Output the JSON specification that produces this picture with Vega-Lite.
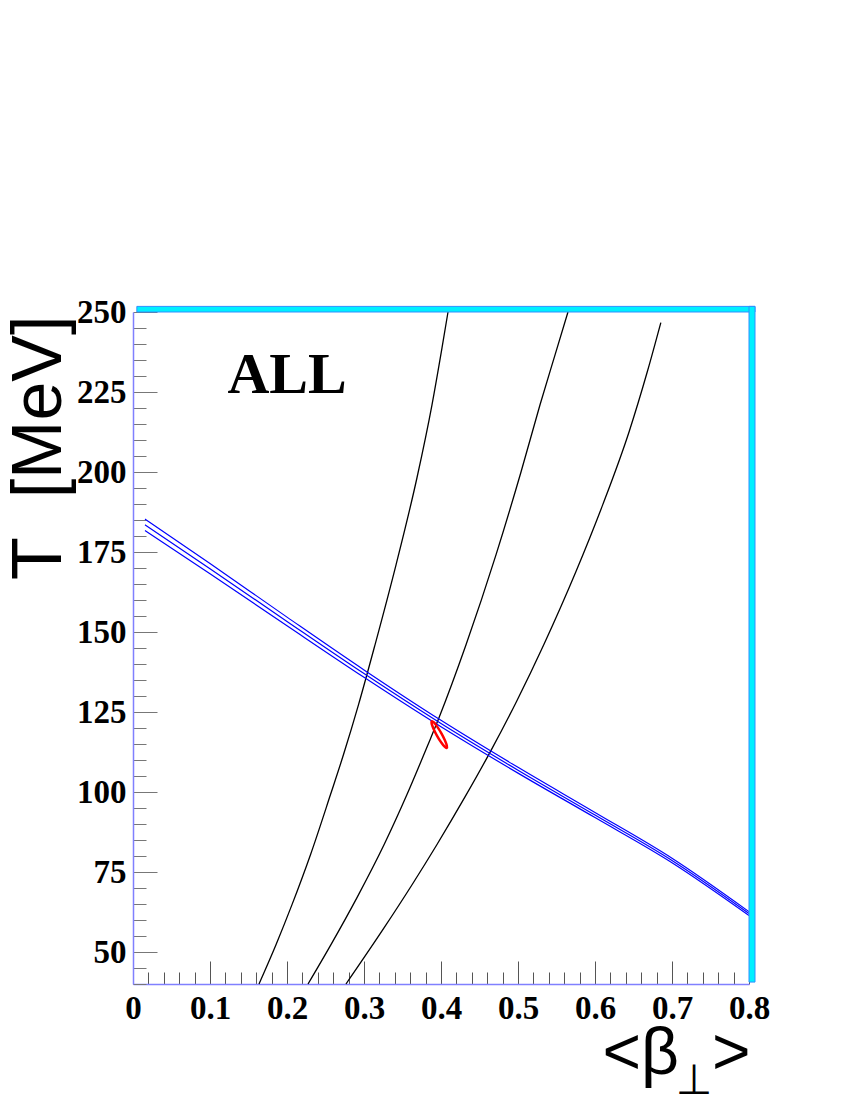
{
  "$schema": "https://vega.github.io/schema/vega-lite/v6.json",
  "width": 616,
  "height": 672,
  "autosize": {"type": "none"},
  "padding": {"left": 133, "top": 312, "right": 45, "bottom": 116},
  "background": "white",
  "config": {"view": {"stroke": null}},
  "datasets": {
    "curves": [
      {"curve": "c1", "x": 0.1636, "T": 40}, {"curve": "c1", "x": 0.1857, "T": 52.3}, {"curve": "c1", "x": 0.2065, "T": 64.8},
      {"curve": "c1", "x": 0.2305, "T": 80.4}, {"curve": "c1", "x": 0.2565, "T": 99.2}, {"curve": "c1", "x": 0.2734, "T": 111.7},
      {"curve": "c1", "x": 0.2929, "T": 127.3}, {"curve": "c1", "x": 0.3143, "T": 146.0}, {"curve": "c1", "x": 0.3416, "T": 171.0},
      {"curve": "c1", "x": 0.3688, "T": 198.2}, {"curve": "c1", "x": 0.3883, "T": 221.0}, {"curve": "c1", "x": 0.4013, "T": 238.8},
      {"curve": "c1", "x": 0.4091, "T": 250},
      {"curve": "c2", "x": 0.2273, "T": 40}, {"curve": "c2", "x": 0.2571, "T": 52.3}, {"curve": "c2", "x": 0.2909, "T": 67.0},
      {"curve": "c2", "x": 0.3260, "T": 83.5}, {"curve": "c2", "x": 0.3558, "T": 99.2}, {"curve": "c2", "x": 0.3831, "T": 114.8},
      {"curve": "c2", "x": 0.3974, "T": 123.2}, {"curve": "c2", "x": 0.4325, "T": 146.0}, {"curve": "c2", "x": 0.4714, "T": 174.1},
      {"curve": "c2", "x": 0.5039, "T": 200.0}, {"curve": "c2", "x": 0.5286, "T": 221.0}, {"curve": "c2", "x": 0.5481, "T": 236.6},
      {"curve": "c2", "x": 0.5649, "T": 250},
      {"curve": "c3", "x": 0.2766, "T": 40}, {"curve": "c3", "x": 0.3262, "T": 57.6}, {"curve": "c3", "x": 0.3626, "T": 71.1},
      {"curve": "c3", "x": 0.3948, "T": 83.6}, {"curve": "c3", "x": 0.4308, "T": 98.3}, {"curve": "c3", "x": 0.4643, "T": 112.7},
      {"curve": "c3", "x": 0.4981, "T": 128.3}, {"curve": "c3", "x": 0.5336, "T": 146.1}, {"curve": "c3", "x": 0.5753, "T": 168.9},
      {"curve": "c3", "x": 0.6101, "T": 189.8}, {"curve": "c3", "x": 0.6443, "T": 212.6}, {"curve": "c3", "x": 0.6680, "T": 231.4},
      {"curve": "c3", "x": 0.6855, "T": 246.7}
    ],
    "blue": [
      {"line": "u", "x": 0.0156, "T": 185.3}, {"line": "u", "x": 0.1, "T": 171.4}, {"line": "u", "x": 0.2, "T": 154.65},
      {"line": "u", "x": 0.3, "T": 138.15}, {"line": "u", "x": 0.4, "T": 122.4}, {"line": "u", "x": 0.5, "T": 107.7},
      {"line": "u", "x": 0.6, "T": 93.6}, {"line": "u", "x": 0.7, "T": 79.3}, {"line": "u", "x": 0.8, "T": 62.6},
      {"line": "m", "x": 0.0156, "T": 183.5}, {"line": "m", "x": 0.1, "T": 169.8}, {"line": "m", "x": 0.2, "T": 153.3},
      {"line": "m", "x": 0.3, "T": 137.0}, {"line": "m", "x": 0.4, "T": 121.4}, {"line": "m", "x": 0.5, "T": 106.8},
      {"line": "m", "x": 0.6, "T": 92.8}, {"line": "m", "x": 0.7, "T": 78.6}, {"line": "m", "x": 0.8, "T": 62.0},
      {"line": "l", "x": 0.0156, "T": 181.7}, {"line": "l", "x": 0.1, "T": 168.2}, {"line": "l", "x": 0.2, "T": 151.95},
      {"line": "l", "x": 0.3, "T": 135.85}, {"line": "l", "x": 0.4, "T": 120.4}, {"line": "l", "x": 0.5, "T": 105.9},
      {"line": "l", "x": 0.6, "T": 92.0}, {"line": "l", "x": 0.7, "T": 77.9}, {"line": "l", "x": 0.8, "T": 61.4}
    ],
    "ellipse": [
      {"i": 0, "x": 0.40744, "T": 113.79}, {"i": 1, "x": 0.40755, "T": 114.54}, {"i": 2, "x": 0.40502, "T": 116.20},
      {"i": 3, "x": 0.40053, "T": 118.33}, {"i": 4, "x": 0.39528, "T": 120.36}, {"i": 5, "x": 0.39068, "T": 121.74},
      {"i": 6, "x": 0.38796, "T": 122.11}, {"i": 7, "x": 0.38785, "T": 121.36}, {"i": 8, "x": 0.39038, "T": 119.70},
      {"i": 9, "x": 0.39487, "T": 117.57}, {"i": 10, "x": 0.40012, "T": 115.54}, {"i": 11, "x": 0.40472, "T": 114.16}
    ],
    "label": [{"x": 0.2, "T": 224.8, "text": "ALL"}],
    "sub": [{"x": 0.7286, "T": 5.6, "text": "⊥"}],
    "frame": [
      {"part": "top", "x1": 0.005, "x2": 0.8078, "t1": 250, "t2": 251.75},
      {"part": "right", "x1": 0.8, "x2": 0.8078, "t1": 40.6, "t2": 251.75}
    ]
  },
  "layer": [
    {
      "data": {"name": "curves"},
      "mark": {"type": "line", "color": "black", "strokeWidth": 1.3, "interpolate": "monotone"},
      "encoding": {
        "x": {"field": "x", "type": "quantitative", "scale": {"domain": [0, 0.8], "nice": false, "zero": false},
          "axis": {"orient": "bottom", "values": [0.02,0.04,0.06,0.08,0.12,0.14,0.16,0.18,0.22,0.24,0.26,0.28,0.32,0.34,0.36,0.38,0.42,0.44,0.46,0.48,0.52,0.54,0.56,0.58,0.62,0.64,0.66,0.68,0.72,0.74,0.76,0.78],
            "tickSize": -12, "tickColor": "#555555", "tickWidth": 1, "labels": false, "domain": false, "title": null, "grid": false}},
        "y": {"field": "T", "type": "quantitative", "scale": {"domain": [40, 250], "nice": false, "zero": false},
          "axis": {"orient": "left", "values": [40,45,55,60,65,70,80,85,90,95,105,110,115,120,130,135,140,145,155,160,165,170,180,185,190,195,205,210,215,220,230,235,240,245],
            "tickSize": -13, "tickColor": "#777777", "tickWidth": 1, "labels": false, "domain": false, "title": null, "grid": false}},
        "detail": {"field": "curve"}
      }
    },
    {
      "data": {"name": "blue"},
      "mark": {"type": "line", "color": "#0000ff", "strokeWidth": 1.2, "interpolate": "monotone"},
      "encoding": {
        "x": {"field": "x", "type": "quantitative", "scale": {"domain": [0, 0.8], "nice": false, "zero": false},
          "axis": {"orient": "bottom", "values": [0,0.1,0.2,0.3,0.4,0.5,0.6,0.7,0.8], "format": ".1~f",
            "tickSize": -23, "tickColor": "#555555", "tickWidth": 1, "domainColor": "#8080ff", "domainWidth": 1.5,
            "labelFont": "Liberation Serif", "labelFontWeight": "bold", "labelFontSize": 33, "labelColor": "black",
            "labelPadding": 31, "labelFlush": false, "labelOverlap": false, "grid": false,
            "title": "<β\u2002>", "titleFont": "Liberation Sans", "titleFontSize": 66, "titleFontWeight": "normal", "titleColor": "black",
            "titleAlign": "right", "titleBaseline": "alphabetic", "titleX": 617, "titleY": 89}},
        "y": {"field": "T", "type": "quantitative", "scale": {"domain": [40, 250], "nice": false, "zero": false},
          "axis": {"orient": "left", "values": [50,75,100,125,150,175,200,225,250],
            "tickSize": -24, "tickColor": "#777777", "tickWidth": 1, "domainColor": "#8080ff", "domainWidth": 1.5,
            "labelFont": "Liberation Serif", "labelFontWeight": "bold", "labelFontSize": 33, "labelColor": "black",
            "labelPadding": 31, "labelFlush": false, "labelOverlap": false, "grid": false,
            "title": "T\u00a0\u00a0[MeV]", "titleFont": "Liberation Sans", "titleFontSize": 70, "titleFontWeight": "normal", "titleColor": "black",
            "titleAngle": -90, "titleAlign": "right", "titleBaseline": "alphabetic", "titleX": -73, "titleY": 3}},
        "detail": {"field": "line"}
      }
    },
    {
      "data": {"name": "ellipse"},
      "mark": {"type": "line", "color": "#ff0000", "strokeWidth": 2.5, "interpolate": "cardinal-closed"},
      "encoding": {
        "x": {"field": "x", "type": "quantitative", "scale": {"domain": [0, 0.8], "nice": false, "zero": false}, "axis": null},
        "y": {"field": "T", "type": "quantitative", "scale": {"domain": [40, 250], "nice": false, "zero": false}, "axis": null},
        "order": {"field": "i", "type": "quantitative"}
      }
    },
    {
      "data": {"name": "label"},
      "mark": {"type": "text", "font": "Liberation Serif", "fontWeight": "bold", "fontSize": 58, "align": "center", "baseline": "alphabetic", "color": "black"},
      "encoding": {
        "x": {"field": "x", "type": "quantitative", "scale": {"domain": [0, 0.8], "nice": false, "zero": false}, "axis": null},
        "y": {"field": "T", "type": "quantitative", "scale": {"domain": [40, 250], "nice": false, "zero": false}, "axis": null},
        "text": {"field": "text"}
      }
    },
    {
      "data": {"name": "sub"},
      "mark": {"type": "text", "font": "DejaVu Sans", "fontSize": 42, "align": "center", "baseline": "alphabetic", "color": "black", "clip": false},
      "encoding": {
        "x": {"field": "x", "type": "quantitative", "scale": {"domain": [0, 0.8], "nice": false, "zero": false}, "axis": null},
        "y": {"field": "T", "type": "quantitative", "scale": {"domain": [40, 250], "nice": false, "zero": false}, "axis": null},
        "text": {"field": "text"}
      }
    },
    {
      "data": {"name": "frame"},
      "mark": {"type": "rect", "fill": "#00f0ff", "stroke": "#2f8fff", "strokeWidth": 1, "clip": false},
      "encoding": {
        "x": {"field": "x1", "type": "quantitative", "scale": {"domain": [0, 0.8], "nice": false, "zero": false}, "axis": null},
        "x2": {"field": "x2"},
        "y": {"field": "t1", "type": "quantitative", "scale": {"domain": [40, 250], "nice": false, "zero": false}, "axis": null},
        "y2": {"field": "t2"}
      }
    }
  ],
  "resolve": {"axis": {"x": "independent", "y": "independent"}}
}
